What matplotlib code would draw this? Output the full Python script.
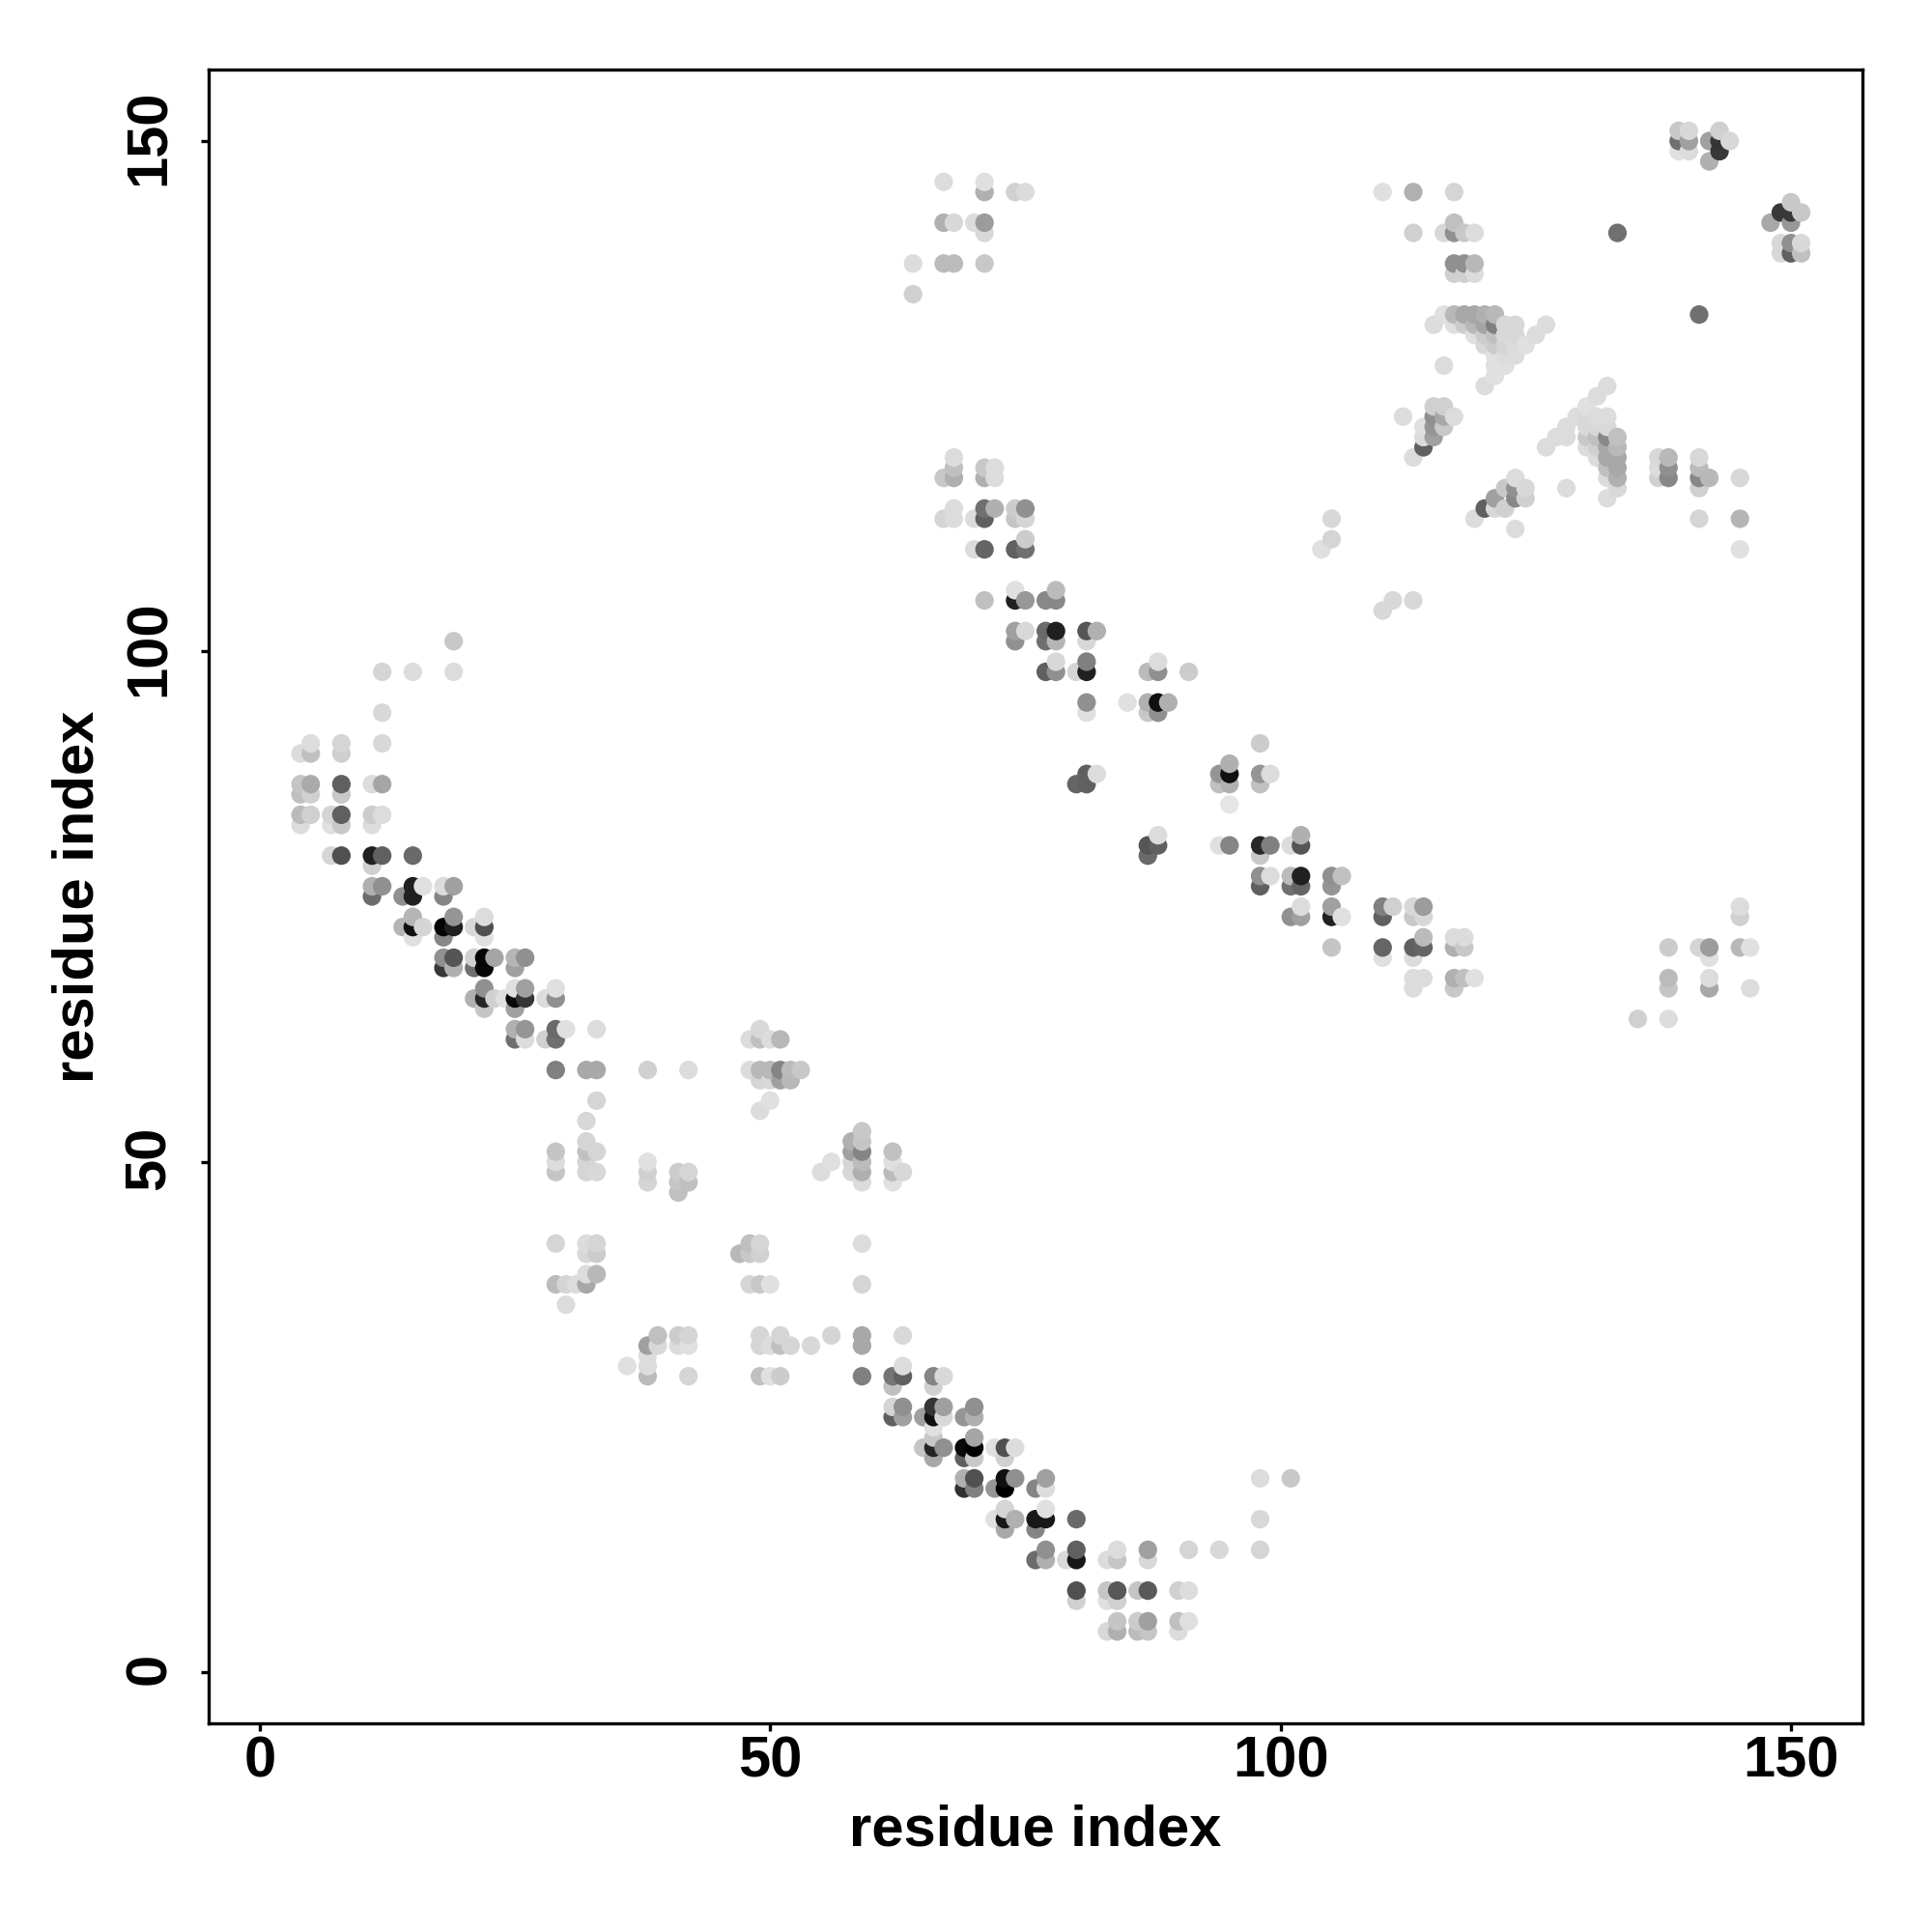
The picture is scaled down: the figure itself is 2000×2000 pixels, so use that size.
import matplotlib
matplotlib.use('Agg')
import matplotlib.pyplot as plt
import matplotlib.transforms as mtrans
import numpy as np

plt.rcParams['font.family'] = ['Liberation Sans', 'DejaVu Sans']
plt.rcParams['font.weight'] = 'bold'

tick_vals = [0, 50, 100, 150]

# one entry per row of the map: residue j, then residues i and grey level (0-255) of each contact
row_y = [
    151, 150, 149, 148, 146, 145, 144, 143, 142, 141, 140, 139, 138, 137, 135, 133,
    132, 131, 130, 129, 128, 127, 126, 125, 124, 123, 122, 121, 120, 119, 118, 117,
    116, 115, 114, 113, 112, 111, 110, 106, 105, 104, 102, 101, 99, 98, 95, 94,
    91, 90, 89, 88, 87, 86, 85, 84, 83, 82, 81, 80, 79, 78, 77, 76,
    75, 74, 73, 72, 71, 70, 69, 68, 67, 66, 65, 64, 63, 62, 59, 58,
    56, 55, 54, 53, 52, 51, 50, 49, 48, 47, 42, 41, 39, 38, 36, 33,
    32, 31, 30, 29, 28, 26, 25, 24, 23, 22, 21, 19, 18, 16, 15, 14,
    12, 11, 8, 7, 5, 4,
]
row_x = [
    [139, 140, 143], [139, 140, 142, 143, 144], [139, 140, 143], [142], [67, 71],
    [71, 74, 75, 110, 113, 117], [150], [149, 150, 151], [67, 68, 70, 71, 117, 148, 150],
    [71, 113, 116, 117, 118, 119, 133], [149, 150, 151], [149, 150, 151],
    [64, 67, 68, 71, 117, 118, 119], [117, 118, 119], [64], [116, 117, 118, 119, 120, 121, 141],
    [115, 117, 118, 119, 120, 121, 122, 123, 126], [119, 120, 121, 122, 123, 125],
    [120, 121, 122, 123, 124], [121, 122, 123], [116, 121, 122], [121], [120, 132], [131],
    [115, 116, 130], [112, 115, 116, 117, 129, 130, 131, 132], [114, 115, 116, 128, 130, 131, 132],
    [114, 115, 127, 128, 130, 131, 132, 133], [114, 126, 130, 131, 132, 133],
    [68, 113, 131, 132, 133, 137, 138, 141], [68, 71, 72, 132, 133, 137, 138, 141],
    [67, 68, 71, 72, 123, 132, 133, 137, 138, 141, 142, 145],
    [122, 123, 124, 128, 133, 141], [121, 123, 124, 132], [68, 71, 72, 74, 75, 120, 121, 122],
    [67, 68, 70, 71, 74, 75, 105, 119, 141, 145], [123], [75, 105], [70, 71, 74, 75, 104, 145],
    [74, 78], [71, 74, 75, 77, 78, 111, 113], [110], [74, 75, 77, 78, 81, 82], [19, 74, 77, 78, 81],
    [78, 81, 88], [12, 15, 19, 77, 78, 80, 81, 87, 88, 91], [81, 85, 87, 88, 89], [12, 81, 87, 88],
    [5, 8, 12, 98], [4, 5, 8], [95], [81, 82, 94, 95, 98, 99], [4, 5, 8, 11, 12, 80, 81, 94, 95, 98],
    [4, 5, 8], [95], [4, 5, 7, 8, 11, 12], [4, 7, 8, 11], [88, 102], [87, 88, 94, 95, 98, 99, 101, 102],
    [7, 8, 11, 12, 15, 87, 98], [11], [98, 99, 101, 102, 105, 106],
    [11, 12, 15, 16, 18, 19, 98, 101, 102, 105], [11, 14, 15, 18],
    [102, 105, 110, 111, 113, 114, 145], [15, 19, 22, 101, 102, 105, 106, 110, 113, 114, 145],
    [14, 15, 16, 18, 19, 21, 22], [15, 18, 22, 114, 117, 118],
    [105, 110, 113, 114, 117, 118, 138, 141, 142, 145, 146],
    [18, 19, 21, 22, 23, 25, 26, 110, 113, 142], [18, 19, 21, 22, 25],
    [113, 114, 117, 118, 119, 138, 142], [22, 25, 26, 29, 113, 117, 138, 142, 146],
    [21, 22, 23, 24, 25, 26, 28, 29], [22, 25], [135, 138], [25, 26, 29, 30, 33, 49],
    [25, 26, 28, 29, 48, 49, 50, 51], [29, 32, 33, 38, 42, 48, 49, 50, 51, 52, 53], [49, 50, 51, 52],
    [33, 50], [49], [32], [59], [32, 58, 59], [29, 32, 33, 58, 59, 62],
    [29, 32, 38, 56, 58, 59, 62], [29, 32, 33, 38, 41, 42, 55, 58, 59, 62, 63],
    [38, 41, 42, 59, 62], [41], [29, 32, 33, 48, 49, 59], [32, 33, 47, 48, 49], [32, 33],
    [29, 30, 31, 32, 48, 49, 50, 59], [30], [39, 41, 42, 49, 51, 56, 59, 63],
    [38, 39, 41, 42, 49, 50, 51, 52, 54, 59], [38], [36, 38, 63],
    [38, 42, 49, 50, 51, 59, 62, 63, 66, 67], [62, 66], [62, 63, 66, 67, 70],
    [62, 63, 65, 66, 67, 69, 70], [66], [66, 70], [65, 66, 67, 69, 70, 72, 73, 74],
    [66, 69, 70, 73], [69, 70, 73, 74, 77, 98, 101], [69, 70, 72, 73, 76, 77], [73, 77],
    [72, 73, 74, 76, 77, 80, 98], [73, 76], [77, 80, 84, 87, 91, 94, 98],
    [76, 77, 79, 80, 83, 84, 87], [80, 83, 84, 86, 87, 90, 91], [80, 83, 84],
    [84, 86, 87, 90, 91], [83, 84, 86, 87, 90],
]
row_grey = [
    [0xc8, 0xd8, 0xd0], [0x70, 0xa0, 0xa0, 0x35, 0xd8], [0xe0, 0xdc, 0x38], [0xb0], [0xdc, 0xe0],
    [0xb0, 0xd0, 0xdc, 0xe0, 0xb0, 0xd5], [0xc8], [0x38, 0x38, 0xc8], [0xb0, 0xd8, 0xdc, 0x9c, 0xc0, 0xa8, 0x98],
    [0xd8, 0xd0, 0xd8, 0x90, 0xc8, 0xdc, 0x70], [0xd8, 0x90, 0xd8], [0xd8, 0x60, 0xc0],
    [0xdc, 0xbb, 0xbb, 0xc8, 0x90, 0x90, 0xb8], [0xd0, 0xd0, 0xdc], [0xd0], [0xe0, 0xb8, 0xa8, 0xa8, 0xb0, 0xb8, 0x70],
    [0xdc, 0xe0, 0xcc, 0xb8, 0xa5, 0x80, 0xd8, 0xd8, 0xdc], [0xe0, 0xcc, 0xc0, 0xd8, 0xd8, 0xdc],
    [0xd8, 0xcc, 0xd5, 0xdc, 0xe0], [0xe0, 0xdc, 0xdc], [0xdc, 0xe0, 0xe0], [0xe0], [0xdc, 0xdc], [0xdc],
    [0xd0, 0xd0, 0xe0], [0xdc, 0x90, 0xa8, 0xdc, 0xdc, 0xd8, 0xdc, 0xdc], [0xe0, 0x95, 0xc8, 0xdc, 0xd8, 0xd8, 0xd8],
    [0xdc, 0xa0, 0xdc, 0xdc, 0xc8, 0xc0, 0x88, 0xc0], [0x60, 0xdc, 0xdc, 0xd0, 0xa8, 0xb8],
    [0xdc, 0xdc, 0xdc, 0xa8, 0xa8, 0xd8, 0xb8, 0xd8], [0xc0, 0xc8, 0xdc, 0xc0, 0xa8, 0xdc, 0x90, 0xbb],
    [0xc8, 0xb0, 0xb0, 0xdc, 0xdc, 0xdc, 0xb0, 0xd0, 0x88, 0x88, 0xb8, 0xd8],
    [0xc8, 0x90, 0xd8, 0xdc, 0xd8, 0xd0], [0xa0, 0x88, 0xd0, 0xdc], [0xdc, 0x70, 0xb0, 0xcc, 0x90, 0x60, 0xd8, 0xd0],
    [0xd5, 0xdc, 0xdc, 0x60, 0xc5, 0xd5, 0xd8, 0xdc, 0xd5, 0xb5], [0xdc], [0xcc, 0xd5], [0xdc, 0x65, 0x60, 0x70, 0xe0, 0xe0],
    [0xe0, 0xbb], [0xc0, 0x20, 0x98, 0x88, 0x88, 0xd8, 0xd8], [0xd8], [0xa0, 0xd8, 0x6a, 0x20, 0x55, 0xb0], [0xc8, 0x90, 0x70, 0xb5, 0xd8],
    [0xd8, 0x80, 0xdc], [0xd5, 0xdc, 0xdc, 0x60, 0x90, 0xd5, 0x20, 0xbb, 0x90, 0xcc], [0x90, 0xe0, 0xb0, 0x10, 0xb0], [0xd8, 0xe0, 0xc8, 0x90],
    [0xdd, 0xd5, 0xd8, 0xcc], [0xdc, 0xc0, 0xcf], [0xb0], [0x60, 0xdc, 0x95, 0x10, 0x95, 0xdc], [0xc5, 0xaa, 0x60, 0xdc, 0xa5, 0x65, 0x60, 0xc0, 0xb0, 0xc0],
    [0xc0, 0xd0, 0xc8], [0xe5], [0xbb, 0xd0, 0xd5, 0x60, 0xcc, 0xdc], [0xdc, 0xe0, 0xc8, 0xdc], [0xdc, 0xb0], [0x55, 0x60, 0xe0, 0x85, 0x28, 0x80, 0xdc, 0x55],
    [0xd5, 0x50, 0x20, 0x60, 0x6a, 0x6a, 0xc8], [0xd0], [0x90, 0xdc, 0xbb, 0x20, 0x90, 0xc0],
    [0xb0, 0x90, 0x20, 0xe0, 0xdc, 0xa0, 0x60, 0x70, 0x65, 0x95], [0x6c, 0x90, 0x20, 0x85],
    [0xdc, 0xa0, 0x80, 0xd0, 0xd8, 0x9c, 0xdc], [0xb5, 0x95, 0xdc, 0x90, 0xa0, 0x20, 0xe0, 0x60, 0xc8, 0xd8, 0xd0],
    [0xb5, 0x10, 0xd5, 0x05, 0x20, 0xd8, 0x50], [0xe0, 0x88, 0xe0, 0xbb, 0xdc, 0xdc],
    [0xc5, 0x65, 0x60, 0x65, 0xb0, 0xc8, 0xcc, 0xd5, 0x9c, 0xb8, 0xe0],
    [0x90, 0x55, 0xd0, 0x05, 0xa5, 0xb5, 0x90, 0xe0, 0xdc, 0xe0], [0x38, 0xb0, 0x70, 0x08, 0xa0],
    [0xdc, 0xdc, 0xb0, 0xc0, 0xe0, 0xbb, 0xdc], [0x90, 0xe0, 0xa0, 0xe0, 0xdc, 0xc8, 0xc5, 0xa8, 0xdc],
    [0xb0, 0x25, 0xd0, 0xe0, 0x08, 0x35, 0xdc, 0x90], [0xc5, 0xa0], [0xd0, 0xdc], [0xb0, 0x95, 0x6a, 0xe0, 0xdc, 0xd8],
    [0x70, 0xdc, 0xd0, 0x70, 0xdc, 0xc0, 0xdc, 0xb8], [0x80, 0xa8, 0xa8, 0xd0, 0xdc, 0xdc, 0xb8, 0xb8, 0x85, 0xbb, 0xc8], [0xd5, 0xd8, 0xa0, 0xb8],
    [0xd5, 0xe0], [0xdc], [0xd8], [0xc8], [0xd5, 0xb0, 0xc5], [0xc5, 0xc0, 0xd5, 0xa0, 0x85, 0xc0],
    [0xdc, 0xd5, 0xe0, 0xe0, 0xd5, 0xbb, 0xe0], [0xc5, 0xd5, 0xd8, 0xd0, 0xcc, 0xd5, 0xdc, 0xd8, 0xb0, 0xbb, 0xd8],
    [0xd5, 0xc5, 0xc0, 0xdc, 0xe0], [0xc0], [0xd5, 0xdc, 0xd5, 0xc0, 0xd5, 0xdc], [0xd8, 0xcc, 0xb8, 0xc8, 0xd0], [0xdc, 0xb8],
    [0xbb, 0xd5, 0xdc, 0xa8, 0xd5, 0xc8, 0xe0, 0xd5], [0xdc], [0xc0, 0xcc, 0xd5, 0xd5, 0xd5, 0xd5, 0xa8, 0xd8],
    [0xa0, 0xd8, 0xdc, 0xe0, 0xd5, 0xdc, 0xc0, 0xd5, 0xd8, 0xa8], [0xdc], [0xe0, 0xdc, 0xdc],
    [0xbb, 0xd5, 0xc0, 0xe0, 0xcc, 0x80, 0x75, 0x60, 0x85, 0xd8], [0xc0, 0xd0], [0xd5, 0x90, 0x35, 0xa0, 0x90],
    [0x60, 0xa0, 0xa0, 0x10, 0xd8, 0x95, 0xb0], [0xe0], [0xc8, 0xa5], [0xc5, 0x25, 0x90, 0x0a, 0x02, 0xe0, 0x50, 0xdc],
    [0xa8, 0x60, 0xc8, 0xd0], [0xb0, 0x50, 0x10, 0x90, 0xa0, 0xdc, 0xc8], [0x30, 0x80, 0x95, 0x00, 0x85, 0xdc], [0xd5, 0xe0],
    [0xe0, 0x18, 0xb0, 0x18, 0x18, 0x6a, 0xd8], [0xa8, 0x85], [0x90, 0x60, 0xdc, 0xa0, 0xd5, 0xd8, 0xd5],
    [0x6c, 0xb0, 0xd8, 0x18, 0xdc, 0xc5, 0xd8], [0x50, 0xc5, 0x58, 0xc5, 0x5a, 0xd0, 0xdc], [0xd0, 0xe0, 0xd0],
    [0xc5, 0xcc, 0xa0, 0xc0, 0xe0], [0xd8, 0xb0, 0xbb, 0xc5, 0xdc],
]

x = np.concatenate(row_x)
y = np.repeat(row_y, [len(r) for r in row_x])
grey = np.concatenate(row_grey)

# later points sit on top, so plot left to right and bottom to top
order = np.lexsort((y, x))

fig = plt.figure(figsize=(10, 10), dpi=200)
ax = fig.add_axes([216 / 2000, 216 / 2000, 1712 / 2000, 1712 / 2000])
ax.scatter(x[order], y[order], c=grey[order], cmap='gray', vmin=0, vmax=255,
           s=48, linewidths=0)
ax.set_xlim(-5, 157)
ax.set_ylim(-5, 157)

ax.set_xticks(tick_vals)
ax.set_yticks(tick_vals)
ax.tick_params(axis='both', length=3, width=1.2, labelsize=21.5)
ax.tick_params(axis='x', pad=1.4)
ax.tick_params(axis='y', pad=9)
# rotated labels sit a little low otherwise
nudge = mtrans.ScaledTranslation(0, 1.3 / 72, fig.dpi_scale_trans)
for lab in ax.get_yticklabels():
    lab.set_rotation(90)
    lab.set_verticalalignment('center')
    lab.set_transform(lab.get_transform() + nudge)
for spine in ax.spines.values():
    spine.set_linewidth(1.2)

ax.set_xlabel('residue index', fontsize=21.5, fontweight='bold', labelpad=6)
ax.set_ylabel('residue index', fontsize=21.5, fontweight='bold', labelpad=6.9)

fig.savefig('out.png', dpi=200)
